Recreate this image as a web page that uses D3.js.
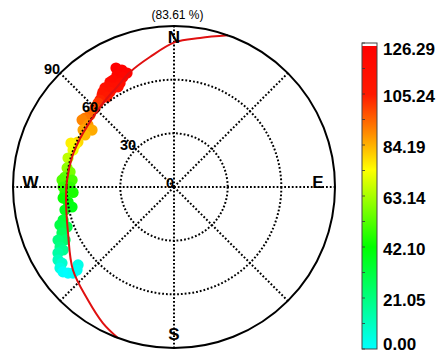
<!DOCTYPE html>
<html><head><meta charset="utf-8">
<script src="https://cdn.jsdelivr.net/npm/d3@7"></script>
<style>html,body{margin:0;padding:0;background:#fff;} svg{display:block;font-family:"Liberation Sans",Arial,sans-serif;}</style>
</head><body><svg id="c" width="442" height="354"></svg>
<script>
// ---------- data ----------
const title = "(83.61 %)";
const directions = ["N", "E", "S", "W"];
const directionAz = [0, 90, 180, 270];
const zenithRings = [30, 60];
const zenithLabelValues = [0, 30, 60, 90];
const spokeAz = [0, 45, 90, 135, 180, 225, 270, 315];
const colorTicks = [0.00, 21.05, 42.10, 63.14, 84.19, 105.24, 126.29];
const colorTickLabels = ["0.00", "21.05", "42.10", "63.14", "84.19", "105.24", "126.29"];
const colorMax = 126.29;
const colorStopValues = [0, 42.1, 74, 89, 105, 126.29];
const colorStopColors = ["#00ffff", "#00ff00", "#ffff00", "#ff8c00", "#ff1a00", "#ff0000"];

// observations: azimuth (deg), zenith (deg), value
const dotAz = [334.0, 336.0, 337.6, 333.0, 335.1, 330.3, 328.6, 332.6, 330.8, 328.4, 326.6, 325.1, 326.0, 323.2, 322.0, 323.3, 319.6, 317.9, 315.0,
  310.6, 307.8, 306.1, 305.8, 302.1, 304.8, 300.3, 295.1, 293.1, 293.0, 290.1,
  285.3, 280.1, 278.2, 275.2, 273.6, 273.9, 270.0, 270.0, 266.8, 266.9, 264.3, 261.9, 258.9, 258.1, 253.4, 251.6, 249.5, 247.7, 244.1, 245.4,
  242.2, 240.4, 240.4, 237.8, 235.8, 234.6, 230.9, 229.4, 232.6, 230.9, 229.6];
const dotZen = [74.0, 71.6, 68.9, 70.2, 67.8, 68.8, 68.7, 65.5, 64.1, 65.0, 67.0, 67.5, 64.0, 66.3, 65.3, 62.7, 63.8, 63.3, 62.4,
  61.8, 62.9, 63.6, 59.3, 60.0, 55.8, 57.6, 59.3, 62.6, 60.1, 60.1,
  61.4, 60.7, 58.7, 61.2, 62.7, 57.1, 62.0, 58.1, 61.0, 56.5, 62.3, 59.8, 58.1, 62.3, 64.7, 67.2, 63.8, 67.7, 67.7, 71.3,
  72.0, 71.3, 74.6, 76.6, 75.7, 78.2, 69.1, 71.4, 78.1, 76.3, 74.2];
const dotVal = [126, 125, 124, 122, 121, 119, 118, 117, 115, 114, 114, 112, 111, 110, 108, 107, 104, 101, 98,
  94, 92, 90, 88, 86, 85, 83, 79, 76, 75, 72,
  66, 60, 57, 54, 52, 51, 49, 48, 46, 45, 43, 41, 39, 37, 33, 31, 30, 27, 24, 22,
  20, 18, 15, 11, 8, 5, 4, 2, 1, 0, 1];

// reference track: azimuth (deg), zenith (deg)
const trackAz = [19.6, 9.9, 0.4, 349.5, 339.1, 330.3, 323.7, 317.2, 300.7, 293.4, 286.4, 273.7, 263.1, 246.5, 230.6, 217.3, 207.6, 200.4];
const trackZen = [90, 84.6, 81.0, 73.9, 68.8, 64.3, 62.4, 60.9, 59.1, 59.1, 59.4, 59.9, 60.8, 64.6, 73.1, 79.4, 85.8, 90];

// ---------- chart ----------
const svg = d3.select("#c");
const cx = 174, cy = 187, R = 161;
const r = d3.scaleLinear().domain([0, 90]).range([0, R]);
const rad = d => d * Math.PI / 180;
const proj = (az, zen) => [cx + r(zen) * Math.sin(rad(az)), cy - r(zen) * Math.cos(rad(az))];
const color = d3.scaleLinear().domain(colorStopValues).range(colorStopColors).clamp(true);

svg.append("rect").attr("width", 442).attr("height", 354).attr("fill", "#fff");

// dots
const dots = dotAz.map((a, i) => ({az: a, zen: dotZen[i], v: dotVal[i]}));
svg.append("g").selectAll("circle").data(dots).join("circle")
  .attr("cx", d => proj(d.az, d.zen)[0])
  .attr("cy", d => proj(d.az, d.zen)[1])
  .attr("r", 5.6)
  .attr("fill", d => color(d.v));

// grid
const grid = svg.append("g").attr("fill", "none").attr("stroke", "#000").attr("stroke-width", 2).attr("stroke-dasharray", "1.8,2");
grid.selectAll("circle").data(zenithRings).join("circle")
  .attr("cx", cx).attr("cy", cy).attr("r", d => r(d));
grid.selectAll("line").data(spokeAz).join("line")
  .attr("x1", cx).attr("y1", cy)
  .attr("x2", d => proj(d, 90)[0]).attr("y2", d => proj(d, 90)[1]);

// track
const track = trackAz.map((a, i) => proj(a, trackZen[i]));
svg.append("path").attr("d", d3.line().curve(d3.curveCatmullRom)(track))
  .attr("fill", "none").attr("stroke", "#e01010").attr("stroke-width", 2);

// outer circle
svg.append("circle").attr("cx", cx).attr("cy", cy).attr("r", r(90))
  .attr("fill", "none").attr("stroke", "#000").attr("stroke-width", 2);

// zenith labels along NW spoke
svg.append("g").selectAll("text").data(zenithLabelValues).join("text")
  .attr("x", d => proj(315, d)[0])
  .attr("y", d => proj(315, d)[1] + 1)
  .attr("text-anchor", "end")
  .attr("font-size", 14.5).attr("font-weight", "bold").attr("fill", "#000")
  .text(d => d);

// compass letters
const dirOff = {N: [0, 17], E: [-17, 1], S: [0, -8], W: [17.5, 1]};
svg.append("g").selectAll("text").data(directions).join("text")
  .attr("x", (d, i) => proj(directionAz[i], 90)[0] + dirOff[d][0])
  .attr("y", (d, i) => proj(directionAz[i], 90)[1] + dirOff[d][1])
  .attr("text-anchor", "middle")
  .attr("font-size", 17).attr("font-weight", "bold").attr("fill", "#000")
  .text(d => d);

// title
svg.append("text").attr("x", 177.5).attr("y", 19).attr("text-anchor", "middle")
  .attr("font-size", 12).attr("fill", "#000").text(title);

// colorbar
const bx = 362, bw = 15, by0 = 43, by1 = 349;
const cy2 = d3.scaleLinear().domain([0, colorMax]).range([by1, by0]);
const defs = svg.append("defs");
const grad = defs.append("linearGradient").attr("id", "cb").attr("x1", 0).attr("y1", 1).attr("x2", 0).attr("y2", 0);
grad.selectAll("stop").data(colorStopValues).join("stop")
  .attr("offset", d => d / colorMax)
  .attr("stop-color", (d, i) => colorStopColors[i]);
svg.append("rect").attr("x", bx).attr("y", by0).attr("width", bw).attr("height", by1 - by0)
  .attr("fill", "url(#cb)");
svg.append("rect").attr("x", bx).attr("y", by0).attr("width", bw).attr("height", 3).attr("fill", "#fff");
// minor ticks
const minor = d3.range(0, 13).map(i => i * colorMax / 12);
svg.append("g").selectAll("line").data(minor).join("line")
  .attr("x1", bx).attr("x2", bx + 3)
  .attr("y1", d => cy2(d)).attr("y2", d => cy2(d))
  .attr("stroke", "#333").attr("stroke-width", 0.8);
svg.append("rect").attr("x", bx).attr("y", by0).attr("width", bw).attr("height", by1 - by0)
  .attr("fill", "none").attr("stroke", "#444").attr("stroke-width", 1);
svg.append("g").selectAll("text").data(colorTicks).join("text")
  .attr("x", 383)
  .attr("y", d => Math.max(49, Math.min(343.5, cy2(d) + 1.5)))
  .attr("dy", "0.36em")
  .attr("font-size", 17).attr("font-weight", "bold").attr("fill", "#000")
  .text((d, i) => colorTickLabels[i]);
</script></body></html>
